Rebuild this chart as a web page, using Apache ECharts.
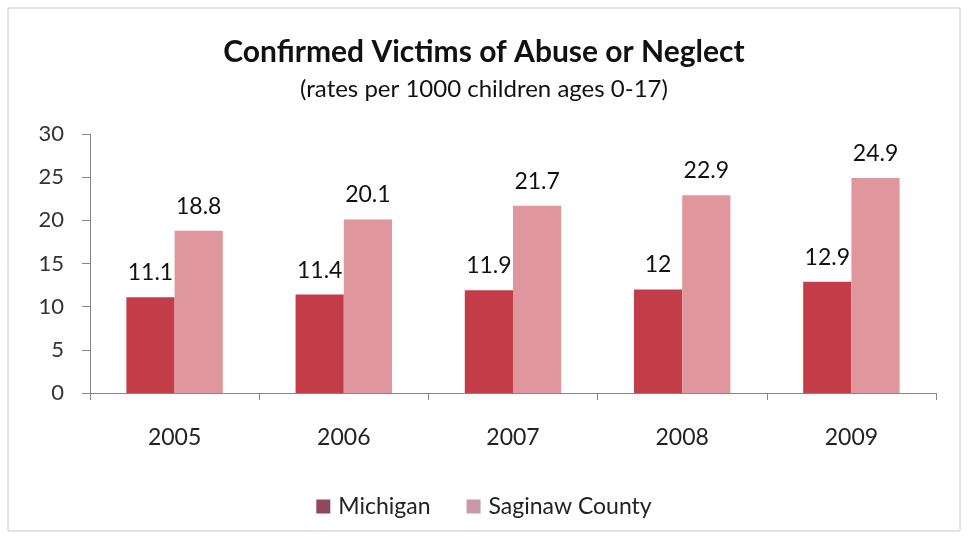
<!DOCTYPE html>
<html>
<head>
<meta charset="utf-8">
<script src="https://cdn.jsdelivr.net/npm/echarts@6/dist/echarts.min.js"></script>
<style>
  html, body { margin: 0; padding: 0; background: #fff; }
  #chart { width: 968px; height: 539px; }
</style>
</head>
<body>
<div id="chart"></div>
<script>
// data
var years = ["2005", "2006", "2007", "2008", "2009"];
var michigan = [11.1, 11.4, 11.9, 12, 12.9];
var saginaw = [18.8, 20.1, 21.7, 22.9, 24.9];
var yTicks = [0, 5, 10, 15, 20, 25, 30];

var font = "Lato";

var myChart = echarts.init(document.getElementById("chart"));

var option = {
  backgroundColor: "#fff",
  animation: false,
  graphic: [{
    type: "rect",
    shape: { x: 8, y: 8, width: 952, height: 523 },
    style: { fill: "none", stroke: "#c8c8c8", lineWidth: 1 }
  }],
  title: {
    text: "Confirmed Victims of Abuse or Neglect",
    subtext: "(rates per 1000 children ages 0-17)",
    left: "center",
    top: 32,
    itemGap: 10,
    textStyle: { fontFamily: font, fontSize: 30, fontWeight: "bold", color: "#111" },
    subtextStyle: { fontFamily: font, fontSize: 24, color: "#111" }
  },
  legend: {
    top: 490,
    left: "center",
    itemWidth: 14,
    itemHeight: 14,
    itemGap: 36,
    icon: "rect",
    textStyle: { fontFamily: font, fontSize: 23, color: "#222", padding: [0, 0, 0, 3] },
    data: [
      { name: "Michigan", itemStyle: { color: "#8e4a5c" } },
      { name: "Saginaw County", itemStyle: { color: "#c99aa6" } }
    ]
  },
  grid: {
    left: 90,
    right: 32,
    top: 134,
    bottom: 146,
    containLabel: false
  },
  xAxis: {
    type: "category",
    data: years,
    axisLine: { show: true, lineStyle: { color: "#868686" } },
    axisTick: { show: true, length: 7, lineStyle: { color: "#868686" } },
    axisLabel: { fontFamily: font, fontSize: 23, color: "#222", margin: 33 }
  },
  yAxis: {
    type: "value",
    min: yTicks[0],
    max: yTicks[yTicks.length - 1],
    interval: 5,
    axisLine: { show: true, lineStyle: { color: "#868686" } },
    axisTick: { show: true, length: 8, lineStyle: { color: "#868686" } },
    splitLine: { show: false },
    axisLabel: { fontFamily: font, fontSize: 22, color: "#333", margin: 26 }
  },
  series: [
    {
      name: "Michigan",
      type: "bar",
      data: michigan,
      barGap: "0%",
      barCategoryGap: "43%",
      itemStyle: { color: "#c33d48" },
      label: { show: true, position: "top", distance: 13, fontFamily: font, fontSize: 23, color: "#111" }
    },
    {
      name: "Saginaw County",
      type: "bar",
      data: saginaw,
      itemStyle: { color: "#df979d" },
      label: { show: true, position: "top", distance: 13, fontFamily: font, fontSize: 23, color: "#111" }
    }
  ]
};

myChart.setOption(option);
</script>
</body>
</html>
